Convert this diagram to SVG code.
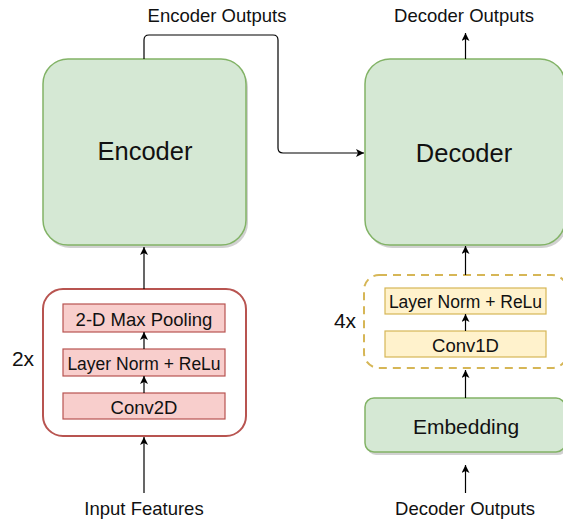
<svg xmlns="http://www.w3.org/2000/svg" width="563" height="519" viewBox="0 0 563 519">
<style>
text{font-family:"Liberation Sans",Arial,sans-serif;fill:#111;text-anchor:middle}
.green{fill:#d5e8d4;stroke:#82b366;stroke-width:1.5}
.redbox{fill:#f8cecc;stroke:#b85450;stroke-width:1.2}
.yelbox{fill:#fff2cc;stroke:#d6b656;stroke-width:1.2}
.line{fill:none;stroke:#000;stroke-width:1.2}
.shadow{fill:#000;opacity:0.18}
.lbl{font-size:18.5px}
.big{font-size:25.5px}
</style>
<defs>
<marker id="arr" markerWidth="10" markerHeight="10" refX="8" refY="4" orient="auto" markerUnits="userSpaceOnUse">
<path d="M0,0 L8,4 L0,8 L2,4 z" fill="#000"/>
</marker>
</defs>
<rect width="563" height="519" fill="#fff"/>
<g id="encoder">
<rect class="shadow" x="45" y="62" width="203" height="186" rx="25"/>
<rect class="green" x="43" y="59" width="203" height="186" rx="25"/>
<text class="big" x="145" y="160">Encoder</text>
</g>
<g id="decoder">
<rect class="shadow" x="367" y="62" width="200" height="186" rx="25"/>
<rect class="green" x="365" y="59" width="200" height="186" rx="25"/>
<text class="big" x="464" y="162">Decoder</text>
</g>
<g id="encoder-block">
<rect x="43" y="289" width="203" height="147" rx="20" fill="#fff" stroke="#b85450" stroke-width="2"/>
<text x="23" y="366" style="font-size:21px">2x</text>
</g>
<g id="maxpool">
<rect class="redbox" x="63" y="304" width="162" height="28"/>
<text class="lbl" x="144" y="326">2-D Max Pooling</text>
</g>
<g id="layernorm-enc">
<rect class="redbox" x="63" y="349" width="162" height="27"/>
<text x="144" y="370" style="font-size:17.5px">Layer Norm + ReLu</text>
</g>
<g id="conv2d">
<rect class="redbox" x="63" y="393" width="162" height="26"/>
<text class="lbl" x="144" y="414">Conv2D</text>
</g>
<g id="decoder-block">
<rect x="364" y="275" width="203" height="93" rx="15" fill="#fff" stroke="#d6b656" stroke-width="2" stroke-dasharray="8 6"/>
<text x="345" y="328" style="font-size:21px">4x</text>
</g>
<g id="layernorm-dec">
<rect class="yelbox" x="385" y="288" width="161" height="26"/>
<text x="465.5" y="308" style="font-size:17.5px">Layer Norm + ReLu</text>
</g>
<g id="conv1d">
<rect class="yelbox" x="385" y="331" width="161" height="26"/>
<text class="lbl" x="465.5" y="352">Conv1D</text>
</g>
<g id="embedding">
<rect class="shadow" x="367" y="401" width="200" height="54" rx="9"/>
<rect class="green" x="365" y="398" width="200" height="54" rx="9"/>
<text x="466" y="434" style="font-size:21px">Embedding</text>
</g>
<g id="labels">
<text class="lbl" x="217" y="22">Encoder Outputs</text>
<text class="lbl" x="464" y="22">Decoder Outputs</text>
<text class="lbl" x="144" y="515">Input Features</text>
<text class="lbl" x="465" y="515">Decoder Outputs</text>
</g>
<g id="connectors">
<path class="line" d="M144,59 V40 Q144,35 149,35 H273 Q278,35 278,40 V148 Q278,153 283,153 H364" marker-end="url(#arr)"/>
<path class="line" d="M465.5,59 V33" marker-end="url(#arr)"/>
<path class="line" d="M144,289 V247" marker-end="url(#arr)"/>
<path class="line" d="M144,349 V332" marker-end="url(#arr)"/>
<path class="line" d="M144,393 V376" marker-end="url(#arr)"/>
<path class="line" d="M144,493 V437" marker-end="url(#arr)"/>
<path class="line" d="M465.5,275 V246" marker-end="url(#arr)"/>
<path class="line" d="M465.5,331 V314" marker-end="url(#arr)"/>
<path class="line" d="M465.5,398 V370" marker-end="url(#arr)"/>
<path class="line" d="M465.5,493 V465" marker-end="url(#arr)"/>
</g>
</svg>
